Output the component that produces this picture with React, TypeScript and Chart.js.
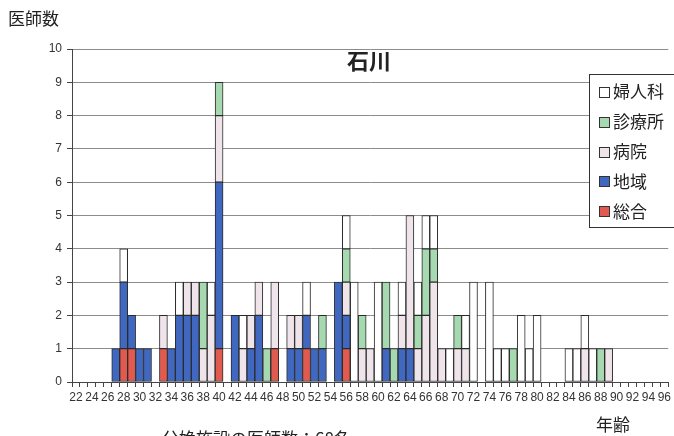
import React, { useEffect, useRef } from "react";
import { Chart, registerables } from "chart.js";

Chart.register(...registerables);

const ages = [
  22, 23, 24, 25, 26, 27, 28, 29, 30, 31,
  32, 33, 34, 35, 36, 37, 38, 39, 40, 41,
  42, 43, 44, 45, 46, 47, 48, 49, 50, 51,
  52, 53, 54, 55, 56, 57, 58, 59, 60, 61,
  62, 63, 64, 65, 66, 67, 68, 69, 70, 71,
  72, 73, 74, 75, 76, 77, 78, 79, 80, 81,
  82, 83, 84, 85, 86, 87, 88, 89, 90, 91,
  92, 93, 94, 95, 96,
];

// 総合
const sogo = [
  0, 0, 0, 0, 0, 0, 1, 1, 0, 0,
  0, 1, 0, 0, 0, 0, 0, 0, 1, 0,
  0, 0, 0, 0, 0, 1, 0, 0, 0, 1,
  0, 0, 0, 0, 1, 0, 0, 0, 0, 0,
  0, 0, 0, 0, 0, 0, 0, 0, 0, 0,
  0, 0, 0, 0, 0, 0, 0, 0, 0, 0,
  0, 0, 0, 0, 0, 0, 0, 0, 0, 0,
  0, 0, 0, 0, 0,
];
// 地域
const chiiki = [
  0, 0, 0, 0, 0, 1, 2, 1, 1, 1,
  0, 0, 1, 2, 2, 2, 0, 0, 5, 0,
  2, 0, 1, 2, 0, 0, 0, 1, 1, 1,
  1, 1, 0, 3, 1, 0, 0, 0, 0, 1,
  0, 1, 1, 0, 0, 0, 0, 0, 0, 0,
  0, 0, 0, 0, 0, 0, 0, 0, 0, 0,
  0, 0, 0, 0, 0, 0, 0, 0, 0, 0,
  0, 0, 0, 0, 0,
];
// 病院
const byoin = [
  0, 0, 0, 0, 0, 0, 0, 0, 0, 0,
  0, 1, 0, 0, 1, 1, 1, 2, 2, 0,
  0, 1, 1, 1, 0, 2, 0, 1, 1, 0,
  0, 0, 0, 0, 1, 0, 1, 1, 0, 0,
  0, 1, 4, 1, 2, 3, 1, 0, 1, 1,
  0, 0, 0, 0, 0, 0, 0, 0, 0, 0,
  0, 0, 0, 0, 1, 0, 0, 1, 0, 0,
  0, 0, 0, 0, 0,
];
// 診療所
const shinryo = [
  0, 0, 0, 0, 0, 0, 0, 0, 0, 0,
  0, 0, 0, 0, 0, 0, 2, 0, 1, 0,
  0, 0, 0, 0, 1, 0, 0, 0, 0, 0,
  0, 1, 0, 0, 1, 0, 1, 0, 0, 2,
  1, 0, 0, 1, 2, 1, 0, 0, 1, 0,
  0, 0, 0, 0, 0, 1, 0, 0, 0, 0,
  0, 0, 0, 0, 0, 0, 1, 0, 0, 0,
  0, 0, 0, 0, 0,
];
// 婦人科
const fujin = [
  0, 0, 0, 0, 0, 0, 1, 0, 0, 0,
  0, 0, 0, 1, 0, 0, 0, 1, 0, 0,
  0, 1, 0, 0, 0, 0, 0, 0, 0, 1,
  0, 0, 0, 0, 1, 3, 0, 0, 3, 0,
  0, 1, 0, 1, 1, 1, 0, 1, 0, 1,
  3, 0, 3, 1, 1, 0, 2, 1, 2, 0,
  0, 0, 1, 1, 1, 1, 0, 0, 0, 0,
  0, 0, 0, 0, 0,
];

const seriesNames = ["総合", "地域", "病院", "診療所", "婦人科"];
const seriesColors = ["#e05a4f", "#4068c0", "#f0e4eb", "#a6d9b0", "#ffffff"];
const seriesData = [sogo, chiiki, byoin, shinryo, fujin];

const chartTitle = "石川";
const yTitle = "医師数";
const xTitle = "年齢";
const footerText = "分娩施設の医師数：68名";

const CJK = '"Noto Sans CJK JP", "Noto Sans", sans-serif';

const overlayPlugin = {
  id: "overlay",
  afterDraw(chart: any) {
    const ctx = chart.ctx;
    ctx.save();
    ctx.fillStyle = "#222";
    ctx.textBaseline = "middle";
    ctx.textAlign = "center";
    ctx.font = `bold 22px ${CJK}`;
    ctx.fillText(chartTitle, 369, 61);
    ctx.textAlign = "left";
    ctx.font = `17px ${CJK}`;
    ctx.fillText(yTitle, 8, 19);
    ctx.fillText(xTitle, 596, 425);
    ctx.textBaseline = "top";
    ctx.fillText(footerText, 162, 430);

    // legend
    const bx = 589.5, by = 74.5, bw = 90, bh = 153;
    ctx.fillStyle = "#ffffff";
    ctx.fillRect(bx, by, bw, bh);
    ctx.strokeStyle = "#333";
    ctx.lineWidth = 1;
    ctx.strokeRect(bx, by, bw, bh);
    ctx.textBaseline = "middle";
    ctx.font = `17px ${CJK}`;
    for (let i = 0; i < seriesNames.length; i++) {
      const idx = seriesNames.length - 1 - i;
      const cy = 92 + i * 29.8;
      ctx.fillStyle = seriesColors[idx];
      ctx.fillRect(599.5, Math.round(cy - 5) + 0.5, 10, 10);
      ctx.strokeStyle = "#333";
      ctx.strokeRect(599.5, Math.round(cy - 5) + 0.5, 10, 10);
      ctx.fillStyle = "#222";
      ctx.fillText(seriesNames[idx], 613, cy);
    }
    ctx.restore();
  },
};

export default function App() {
  const canvasRef = useRef<HTMLCanvasElement | null>(null);

  useEffect(() => {
    document.body.style.margin = "0";
    const canvas = canvasRef.current;
    if (!canvas) return;
    const chart = new Chart(canvas, {
      type: "bar",
      data: {
        labels: ages.map(String),
        datasets: seriesNames.map((name, i) => ({
          label: name,
          data: seriesData[i].map((v) => (v === 0 ? null : v)),
          backgroundColor: seriesColors[i],
          borderColor: "#2a2a2a",
          borderWidth: 1,
          borderSkipped: false,
          categoryPercentage: 1,
          barPercentage: 1,
        })),
      },
      options: {
        responsive: false,
        animation: false,
        devicePixelRatio: 1,
        layout: { padding: { top: 49, right: 2, left: 0, bottom: 0 } },
        plugins: {
          legend: { display: false },
          title: { display: false },
          tooltip: { enabled: false },
        },
        scales: {
          x: {
            stacked: true,
            offset: true,
            grid: {
              display: true,
              drawOnChartArea: false,
              drawTicks: true,
              tickLength: 5,
              offset: true,
              tickColor: "#444",
            },
            border: { display: true, color: "#444" },
            ticks: {
              autoSkip: false,
              maxRotation: 0,
              minRotation: 0,
              padding: 3,
              color: "#333",
              font: { family: '"Liberation Sans", Arial, sans-serif', size: 12 },
              callback: (_v: any, idx: number) =>
                ages[idx] % 2 === 0 ? String(ages[idx]) : "",
            },
            afterFit: (scale: any) => {
              scale.height = 54;
            },
          },
          y: {
            stacked: true,
            min: 0,
            max: 10,
            grid: {
              color: "#8c8c8c",
              drawTicks: true,
              tickLength: 5,
              tickColor: "#444",
            },
            border: { display: true, color: "#444" },
            ticks: {
              stepSize: 1,
              padding: 5,
              color: "#333",
              font: { family: '"Liberation Sans", Arial, sans-serif', size: 12 },
            },
            afterFit: (scale: any) => {
              scale.width = 72;
            },
          },
        },
      },
      plugins: [overlayPlugin],
    });
    return () => chart.destroy();
  }, []);

  return (
    <div style={{ width: 674, height: 436, background: "#fff" }}>
      <canvas ref={canvasRef} width={674} height={436} />
    </div>
  );
}
